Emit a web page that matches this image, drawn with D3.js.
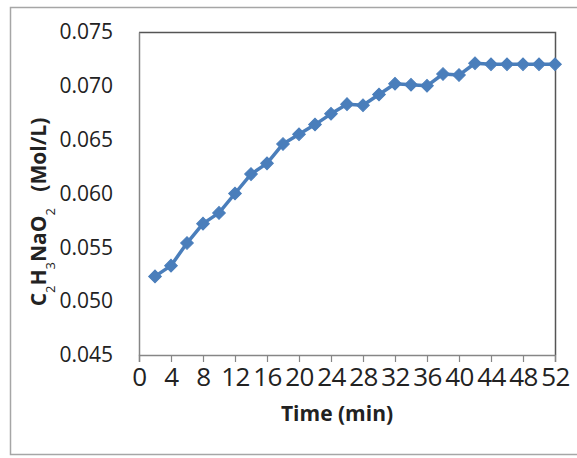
<!DOCTYPE html>
<html>
<head>
<meta charset="utf-8">
<script src="https://cdn.jsdelivr.net/npm/d3@7"></script>
<style>
  html, body { margin: 0; padding: 0; background: #fff; }
  svg { display: block; }
</style>
</head>
<body>
<svg id="chart" width="577" height="458"></svg>
<script>
// Sodium acetate concentration over time
const timeMin = [2, 4, 6, 8, 10, 12, 14, 16, 18, 20, 22, 24, 26, 28, 30, 32, 34, 36, 38, 40, 42, 44, 46, 48, 50, 52];
const concentration = [0.0523, 0.0533, 0.0554, 0.0572, 0.0582, 0.0600, 0.0618, 0.0628, 0.0646, 0.0655,
                       0.0664, 0.0674, 0.0683, 0.0682, 0.0692, 0.0702, 0.0701, 0.0700, 0.0711, 0.0710,
                       0.0721, 0.0720, 0.0720, 0.0720, 0.0720, 0.0720];
const xTicks = [0, 4, 8, 12, 16, 20, 24, 28, 32, 36, 40, 44, 48, 52];
const yTicks = [0.045, 0.050, 0.055, 0.060, 0.065, 0.070, 0.075];

const points = timeMin.map((t, i) => ({ t, c: concentration[i] }));

const svg = d3.select("#chart");
const plot = { left: 139, right: 555, top: 32, bottom: 355 };
const seriesColor = "#4a7ebb";

// outer chart frame
svg.append("rect")
  .attr("x", 10.5).attr("y", 7.5)
  .attr("width", 600).attr("height", 447)
  .attr("fill", "#fff")
  .attr("stroke", "#a6a6a6").attr("stroke-width", 1.5);

const x = d3.scaleLinear().domain([0, 52]).range([plot.left, plot.right]);
const y = d3.scaleLinear().domain([0.045, 0.075]).range([plot.bottom, plot.top]);

// plot area border (top and right)
svg.append("path")
  .attr("d", `M${plot.left},${plot.top + 0.5}H${plot.right + 0.5}V${plot.bottom}`)
  .attr("fill", "none")
  .attr("stroke", "#555").attr("stroke-width", 1.5);

// x axis
const xAxis = svg.append("g")
  .attr("transform", `translate(0,${plot.bottom})`)
  .call(d3.axisBottom(x).tickValues(xTicks).tickFormat(d3.format("d")).tickSize(7).tickPadding(6));
xAxis.select(".domain").attr("stroke", "#868686").attr("stroke-width", 1.5);
xAxis.selectAll(".tick line").attr("stroke", "#868686").attr("stroke-width", 1.2);
xAxis.selectAll(".tick text")
  .attr("fill", "#222")
  .style("font-family", "'Open Sans', sans-serif")
  .style("font-size", "26px")
  .style("letter-spacing", "-0.5px");

// y axis
const yAxis = svg.append("g")
  .attr("transform", `translate(${plot.left},0)`)
  .call(d3.axisLeft(y).tickValues(yTicks).tickFormat(d3.format(".3f")).tickSize(0).tickPadding(26));
yAxis.select(".domain").attr("stroke", "#868686").attr("stroke-width", 1.5);
yAxis.selectAll(".tick text")
  .attr("fill", "#222")
  .style("font-family", "'Open Sans', sans-serif")
  .style("font-size", "21px");

// axis titles
svg.append("text")
  .attr("x", 337).attr("y", 421)
  .attr("text-anchor", "middle")
  .attr("fill", "#222")
  .style("font-family", "'Open Sans', sans-serif")
  .style("font-size", "21px")
  .style("font-weight", "bold")
  .text("Time (min)");

const yTitle = svg.append("text")
  .attr("transform", "translate(46,212) rotate(-90)")
  .attr("text-anchor", "middle")
  .attr("fill", "#222")
  .style("font-family", "'Open Sans', sans-serif")
  .style("font-size", "21px")
  .style("font-weight", "bold");
const titleParts = [["C", false], ["2", true], ["H", false], ["3", true], ["NaO", false], ["2", true], ["\u00a0\u00a0\u00a0(Mol/L)", false]];
titleParts.forEach(([txt, sub]) => {
  const ts = yTitle.append("tspan").text(txt);
  if (sub) ts.attr("baseline-shift", "sub").style("font-size", "13px").style("font-weight", "normal");
});

// series line
const line = d3.line().x(d => x(d.t)).y(d => y(d.c));
svg.append("path")
  .datum(points)
  .attr("d", line)
  .attr("fill", "none")
  .attr("stroke", seriesColor)
  .attr("stroke-width", 3.5)
  .attr("stroke-linejoin", "round");

// diamond markers
const diamond = d3.symbol().type(d3.symbolSquare).size(80);
svg.append("g")
  .selectAll("path")
  .data(points)
  .join("path")
  .attr("d", diamond)
  .attr("transform", d => `translate(${x(d.t)},${y(d.c)}) rotate(45)`)
  .attr("fill", seriesColor)
  .attr("stroke", seriesColor)
  .attr("stroke-width", 1);
</script>
</body>
</html>
